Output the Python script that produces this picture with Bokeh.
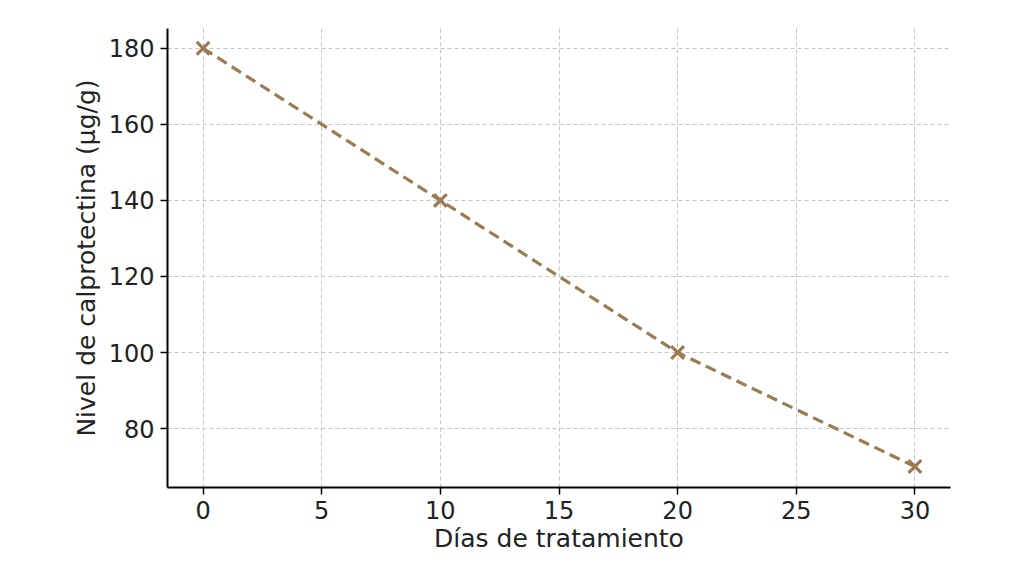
from bokeh.plotting import figure
from bokeh.embed import file_html
from bokeh.resources import INLINE
from bokeh.models import Range1d, FixedTicker

dias = [0, 10, 20, 30]
calprotectina = [180, 140, 100, 70]
x_ticks = [0, 5, 10, 15, 20, 25, 30]
y_ticks = [80, 100, 120, 140, 160, 180]

color = "#9a7b52"

p = figure(width=1008, height=562, output_backend="svg", toolbar_location=None,
           x_range=Range1d(-1.5, 31.5), y_range=Range1d(64.5, 185.2),
           min_border_left=167, min_border_right=58, min_border_top=28, min_border_bottom=75)
p.outline_line_color = None

p.line(dias, calprotectina, line_color=color, line_width=3.2, line_dash="11 6")
p.scatter(dias, calprotectina, marker="x", size=18, line_color=color, line_width=3.2)

for ax in (p.xaxis, p.yaxis):
    ax.axis_line_width = 2
    ax.axis_line_color = "black"
    ax.major_tick_line_width = 1.5
    ax.major_tick_in = 0
    ax.major_tick_out = 7
    ax.minor_tick_line_color = None
    ax.major_label_text_font = "DejaVu Sans"
    ax.major_label_text_font_size = "24px"
    ax.major_label_text_color = "#222222"
    ax.axis_label_text_font = "DejaVu Sans"
    ax.axis_label_text_font_size = "25px"
    ax.axis_label_text_font_style = "normal"
    ax.axis_label_text_color = "#222222"

p.xaxis.ticker = FixedTicker(ticks=x_ticks)
p.yaxis.ticker = FixedTicker(ticks=y_ticks)
p.xaxis.axis_label = "Días de tratamiento"
p.yaxis.axis_label = "Nivel de calprotectina (µg/g)"
p.xaxis.major_label_standoff = 6
p.yaxis.major_label_standoff = 6
p.xaxis.axis_label_standoff = 2
p.yaxis.axis_label_standoff = 5

p.grid.grid_line_color = "#c4c4c4"
p.grid.grid_line_dash = "4 3"
p.grid.grid_line_width = 1

open("out.html", "w").write(file_html(p, INLINE))
